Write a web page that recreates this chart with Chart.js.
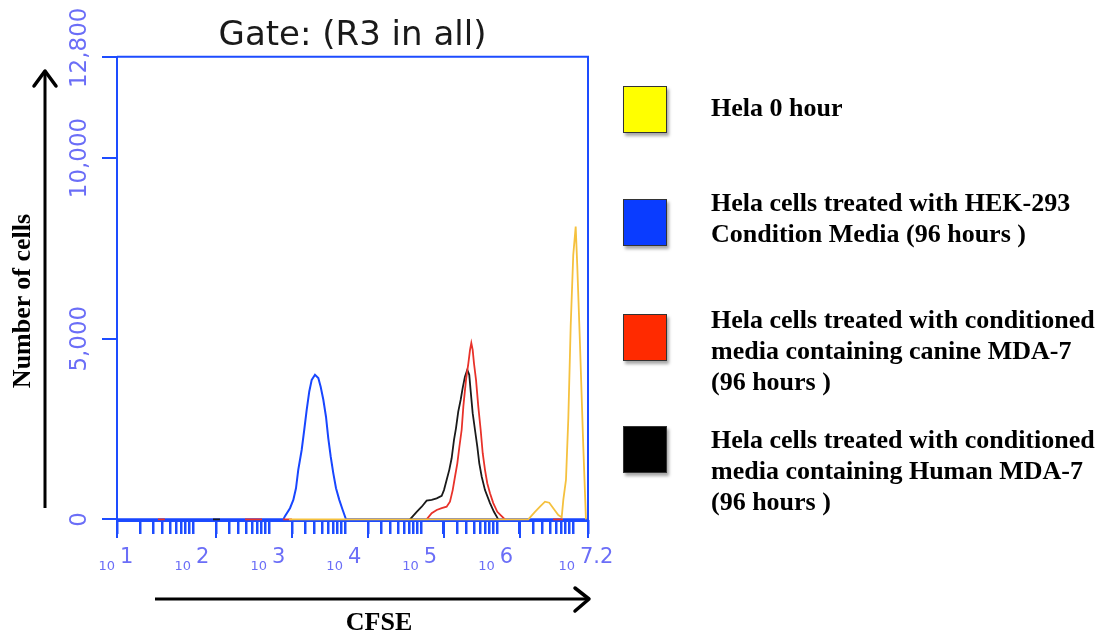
<!DOCTYPE html>
<html>
<head>
<meta charset="utf-8">
<script src="https://cdn.jsdelivr.net/npm/chart.js@4.4.1/dist/chart.umd.min.js"></script>
<style>
  html, body { margin: 0; padding: 0; background: #fff; }
  #wrap { position: relative; width: 1109px; height: 635px; overflow: hidden; }
  #chart { position: absolute; left: 0; top: 0; }
  #arrows { position: absolute; left: 0; top: 0; }
  .lbox { position: absolute; left: 623px; width: 42px; height: 45px; border: 1px solid #333; box-shadow: 2px 3px 3px rgba(0,0,0,0.35); }
  .ltext, .axtitle { position: absolute; font: bold 26px "Liberation Serif", "Times New Roman", serif; color: #000; white-space: nowrap; }
  .ltext { left: 711px; line-height: 31px; }
  #ylab { left: 22px; top: 301px; transform: translate(-50%, -50%) rotate(-90deg); }
  #xlab { left: 379px; top: 622px; transform: translate(-50%, -50%); }
</style>
</head>
<body>
<div id="wrap">
  <canvas id="chart" width="1109" height="635"></canvas>
  <svg id="arrows" width="1109" height="635">
    <line x1="45" y1="508" x2="45" y2="73" stroke="#000" stroke-width="3"/>
    <polyline points="34,86 45,71 56,86" fill="none" stroke="#000" stroke-width="3.5" stroke-linecap="round" stroke-linejoin="round"/>
    <line x1="155" y1="599" x2="587" y2="599" stroke="#000" stroke-width="3"/>
    <polyline points="575,588 589,599 575,611" fill="none" stroke="#000" stroke-width="3.5" stroke-linecap="round" stroke-linejoin="round"/>
  </svg>
  <div class="axtitle" id="ylab">Number of cells</div>
  <div class="axtitle" id="xlab">CFSE</div>
  <div id="legend"></div>
</div>
<script>
// x values are log10(CFSE), y values are cell counts
const orangeX = [3.264, 6.414, 6.502, 6.568, 6.634, 6.690, 6.743, 6.809, 6.854, 6.875, 6.910, 6.941, 6.972, 7.006, 7.038, 7.059, 7.094, 7.138, 7.173];
const orangeY = [0, 0, 210, 350, 490, 460, 310, 120, 60, 540, 1090, 2800, 5340, 7320, 8100, 7000, 4880, 2010, 0];

const redX = [1.54, 1.63, 1.70, 2.685, 2.909, 3.0, 3.185, 3.303, 4.0,
  5.076, 5.142, 5.208, 5.274, 5.339, 5.383, 5.419, 5.449, 5.480, 5.507,
  5.537, 5.559, 5.594, 5.625, 5.647, 5.664, 5.682, 5.699, 5.726, 5.756,
  5.787, 5.814, 5.844, 5.874, 5.910, 5.953, 6.006, 6.063, 6.107, 6.5, 6.739, 6.87];
const redY = [0, 0, null, 0, 0, null, 0, 0, null,
  0, 170, 260, 310, 350, 490, 810, 1180, 1550, 2010,
  2480, 3120, 3860, 4320, 4690, 4880, 4690, 4320, 3860, 3120,
  2480, 1830, 1370, 1000, 720, 450, 210, 90, 0, null, 0, 0];

const blackX = [2.264, 2.356, 2.4,
  4.857, 4.945, 5.011, 5.076, 5.142, 5.208, 5.274, 5.304, 5.339, 5.374,
  5.405, 5.436, 5.462, 5.492, 5.524, 5.550, 5.580, 5.611, 5.637, 5.656,
  5.682, 5.712, 5.743, 5.769, 5.801, 5.844, 5.910, 5.962, 6.019];
const blackY = [0, 0, null,
  0, 210, 350, 520, 540, 580, 650, 810, 1090, 1370,
  1690, 2200, 2520, 2980, 3310, 3630, 3950, 4140, 4000, 3540,
  2940, 2480, 2010, 1550, 1180, 810, 450, 210, 0];

const blueX = [1.0, 3.19, 3.211, 3.277, 3.321, 3.356, 3.386, 3.431, 3.465, 3.497, 3.531, 3.563, 3.606,
  3.650, 3.681, 3.716, 3.751, 3.781, 3.813, 3.847, 3.883, 3.926, 3.971, 4.014, 7.2];
const blueY = [0, 0, 90, 310, 540, 860, 1370, 1920, 2480, 3030, 3540, 3860, 4000,
  3910, 3670, 3310, 2840, 2250, 1740, 1280, 860, 540, 260, 0, 0];

// axis ticks
const yTickVals = [0, 5000, 10000, 12800];
const yTickLabels = ['0', '5,000', '10,000', '12,800'];
const xDecades = [1, 2, 3, 4, 5, 6, 7];
const xMultipliers = [1, 2, 3, 4, 5, 6, 7, 8, 9];
const xLabelVals = [1, 2, 3, 4, 5, 6, 7.2];
const xExponents = ['1', '2', '3', '4', '5', '6', '7.2'];

// legend
const legendColors = ['#ffff00', '#0a3cff', '#ff2a00', '#000000'];
const legendLines = [
  ['Hela 0 hour'],
  ['Hela cells treated with HEK-293', 'Condition Media (96 hours )'],
  ['Hela cells treated with conditioned', 'media containing canine MDA-7', '(96 hours )'],
  ['Hela cells treated with conditioned', 'media containing Human MDA-7', '(96 hours )']
];
const legendBoxTops = [86, 199, 314, 426];
const legendTextTops = [92, 187, 304, 424];

const axisBlue = '#1d4cff';
const labelBlue = '#6b6ef7';

function toPoints(xs, ys) {
  return xs.map((x, i) => ({ x: x, y: ys[i] }));
}

let xTickVals = [];
xDecades.forEach(d => {
  xMultipliers.forEach(k => {
    let v = d + Math.log10(k);
    if (v <= 7.2) xTickVals.push(v);
  });
});
xTickVals.push(7.2);

// legend html
let legend = document.getElementById('legend');
legendColors.forEach((c, i) => {
  let box = document.createElement('div');
  box.className = 'lbox';
  box.style.top = legendBoxTops[i] + 'px';
  box.style.background = c;
  legend.appendChild(box);
  let txt = document.createElement('div');
  txt.className = 'ltext';
  txt.style.top = legendTextTops[i] + 'px';
  txt.innerHTML = legendLines[i].join('<br>');
  legend.appendChild(txt);
});

// frame, long ticks and the 10^n / rotated count labels
const extras = {
  id: 'extras',
  afterDraw(chart) {
    const { ctx, chartArea, scales: { x, y } } = chart;
    ctx.save();
    ctx.strokeStyle = axisBlue;
    ctx.lineWidth = 2;
    ctx.beginPath();
    ctx.moveTo(chartArea.left, chartArea.top);
    ctx.lineTo(chartArea.right, chartArea.top);
    ctx.lineTo(chartArea.right, chartArea.bottom + 17);
    ctx.moveTo(chartArea.left, chartArea.bottom);
    ctx.lineTo(chartArea.left, chartArea.bottom + 17);
    [2, 3, 4, 5, 6].forEach(d => {
      let px = Math.round(x.getPixelForValue(d + Math.log10(2)));
      ctx.moveTo(px, chartArea.bottom);
      ctx.lineTo(px, chartArea.bottom + 17);
    });
    ctx.stroke();

    ctx.fillStyle = labelBlue;
    ctx.textBaseline = 'alphabetic';
    xLabelVals.forEach((v, i) => {
      let px = x.getPixelForValue(v);
      let shift = i === xLabelVals.length - 1 ? -11 : 0;
      ctx.font = '13px "DejaVu Sans"';
      ctx.textAlign = 'right';
      ctx.fillText('10', px - 2 + shift, 570);
      ctx.font = '21px "DejaVu Sans"';
      ctx.textAlign = 'left';
      ctx.fillText(xExponents[i], px + 3 + shift, 563);
    });

    ctx.font = '23px "DejaVu Sans"';
    ctx.textAlign = 'center';
    ctx.textBaseline = 'middle';
    yTickVals.forEach((v, i) => {
      let py = y.getPixelForValue(v);
      if (i === yTickVals.length - 1) py -= 9;
      ctx.save();
      ctx.translate(80, py);
      ctx.rotate(-Math.PI / 2);
      ctx.fillText(yTickLabels[i], 0, 0);
      ctx.restore();
    });
    ctx.restore();
  }
};

const lineStyle = { borderWidth: 1.8, pointRadius: 0, tension: 0, fill: false };

new Chart(document.getElementById('chart'), {
  type: 'line',
  data: {
    datasets: [
      Object.assign({ label: 'Hela 0 hour', data: toPoints(orangeX, orangeY), borderColor: '#f5c13e' }, lineStyle),
      Object.assign({ label: 'canine MDA-7', data: toPoints(redX, redY), borderColor: '#e8322a' }, lineStyle),
      Object.assign({ label: 'Human MDA-7', data: toPoints(blackX, blackY), borderColor: '#1a1a1a' }, lineStyle),
      Object.assign({ label: 'HEK-293', data: toPoints(blueX, blueY), borderColor: '#1846ff' }, lineStyle, { borderWidth: 2 })
    ]
  },
  options: {
    responsive: false,
    animation: false,
    layout: { padding: { left: 117, right: 521, top: 0, bottom: 114 } },
    plugins: {
      legend: { display: false },
      tooltip: { enabled: false },
      title: {
        display: true,
        text: 'Gate: (R3 in all)',
        color: '#1a1a1a',
        font: { family: '"DejaVu Sans"', size: 34, weight: 'normal', lineHeight: 1.2 },
        padding: { top: 16, bottom: 0 }
      }
    },
    scales: {
      x: {
        type: 'linear',
        min: 1,
        max: 7.2,
        afterBuildTicks: scale => { scale.ticks = xTickVals.map(v => ({ value: v })); },
        afterFit: scale => { scale.height = 0; },
        ticks: { display: false },
        grid: { drawOnChartArea: false, drawTicks: true, tickLength: 13, color: axisBlue, lineWidth: 2.5 },
        border: { display: true, color: axisBlue, width: 2 }
      },
      y: {
        min: -45,
        max: 12800,
        afterBuildTicks: scale => { scale.ticks = yTickVals.map(v => ({ value: v })); },
        afterFit: scale => { scale.width = 0; },
        ticks: { display: false },
        grid: { drawOnChartArea: false, drawTicks: true, tickLength: 15, color: axisBlue, lineWidth: 2 },
        border: { display: true, color: axisBlue, width: 2 }
      }
    }
  },
  plugins: [extras]
});
</script>
</body>
</html>
